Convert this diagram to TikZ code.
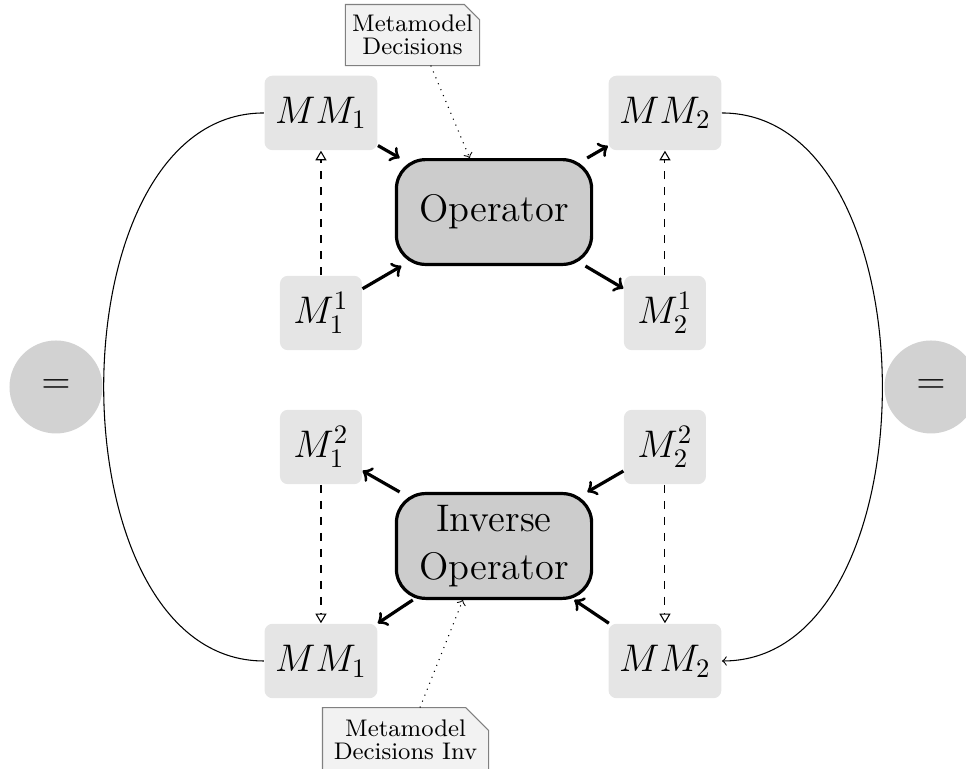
\documentclass[tikz,border=0pt]{standalone}
\usepackage{tikz}
\usepackage{xcolor}
\usetikzlibrary{arrows.meta,backgrounds}

\begin{document}
\begin{tikzpicture}[>=to]
    \tikzstyle{model}=[rectangle, fill=gray!20, rounded corners=3pt, font=\Large, minimum width=1.08cm, minimum height=0.98cm, inner xsep=4pt]
    \tikzstyle{operator}=[rectangle, draw, very thick, fill=gray!40, rounded corners=11pt, align=center, font=\Large, minimum width=2.57cm, minimum height=1.38cm]
    \tikzstyle{equal}=[circle, fill=gray!35, minimum size=1.224cm, font=\Large]
    \tikzstyle{decision}=[rectangle, align=center, inner sep=0pt, minimum height=0.79cm, font=\fontsize{9}{8.5}\selectfont]
    \tikzstyle{folded}=[draw=gray, fill=gray!10]
    \tikzstyle{flow}=[->, very thick]
    \tikzstyle{conform}=[-{Triangle[open]}, dashed]

    \useasboundingbox (0,0) rectangle (12.716,-10.122);

    % forward direction
    \node[model] (mm1a) at (4.225,-1.487) {$MM_1$};
    \node[model] (m11) at (4.225,-4.120) {$M_1^1$};
    \node[operator] (op) at (6.503,-2.791) {Operator};
    \node[model] (mm2a) at (8.753,-1.487) {$MM_2$};
    \node[model] (m21) at (8.753,-4.120) {$M_2^1$};
    \node[decision, minimum width=1.751cm] (dec) at (5.430,-0.461) {Metamodel\\Decisions};

    % backward direction
    \node[model] (m12) at (4.225,-5.884) {$M_1^2$};
    \node[model] (m22) at (8.753,-5.884) {$M_2^2$};
    \node[operator] (inv) at (6.503,-7.187) {Inverse\\Operator};
    \node[model] (mm1b) at (4.225,-8.701) {$MM_1$};
    \node[model] (mm2b) at (8.753,-8.701) {$MM_2$};
    \node[decision, minimum width=2.172cm, minimum height=0.84cm] (decinv) at (5.338,-9.741) {Metamodel\\Decisions Inv};

    \node[equal] (eql) at (0.737,-5.094) {$=$};
    \node[equal] (eqr) at (12.255,-5.094) {$=$};

    % note outlines with the cut corner, behind their text
    \begin{scope}[on background layer]
        \filldraw[folded] (dec.south west) -- (dec.north west) -- ([xshift=-0.2cm]dec.north east) -- ([yshift=-0.2cm]dec.north east) -- (dec.south east) -- cycle;
        \filldraw[folded] (decinv.south west) -- (decinv.north west) -- ([xshift=-0.3cm]decinv.north east) -- ([yshift=-0.3cm]decinv.north east) -- (decinv.south east) -- cycle;
    \end{scope}

    \draw[flow] (mm1a) -- (op);
    \draw[flow] (m11) -- (op);
    \draw[flow] (op) -- (mm2a);
    \draw[flow] (op) -- (m21);
    \draw[flow] (m22) -- (inv);
    \draw[flow] (mm2b) -- (inv);
    \draw[flow] (inv) -- (m12);
    \draw[flow] (inv) -- (mm1b);

    \draw[conform] (m11) -- (mm1a);
    \draw[conform] (m21) -- (mm2a);
    \draw[conform] (m12) -- (mm1b);
    \draw[conform] (m22) -- (mm2b);

    \draw[->, dotted] ([xshift=0.24cm]dec.south) -- ([xshift=-0.32cm]op.north);
    \draw[->, dotted] ([xshift=0.19cm]decinv.north) -- ([xshift=-0.41cm]inv.south);

    \draw (mm1a.west) to[out=180, in=180] (mm1b.west);
    \draw[->] (mm2a.east) to[out=0, in=0] (mm2b.east);
\end{tikzpicture}
\end{document}
